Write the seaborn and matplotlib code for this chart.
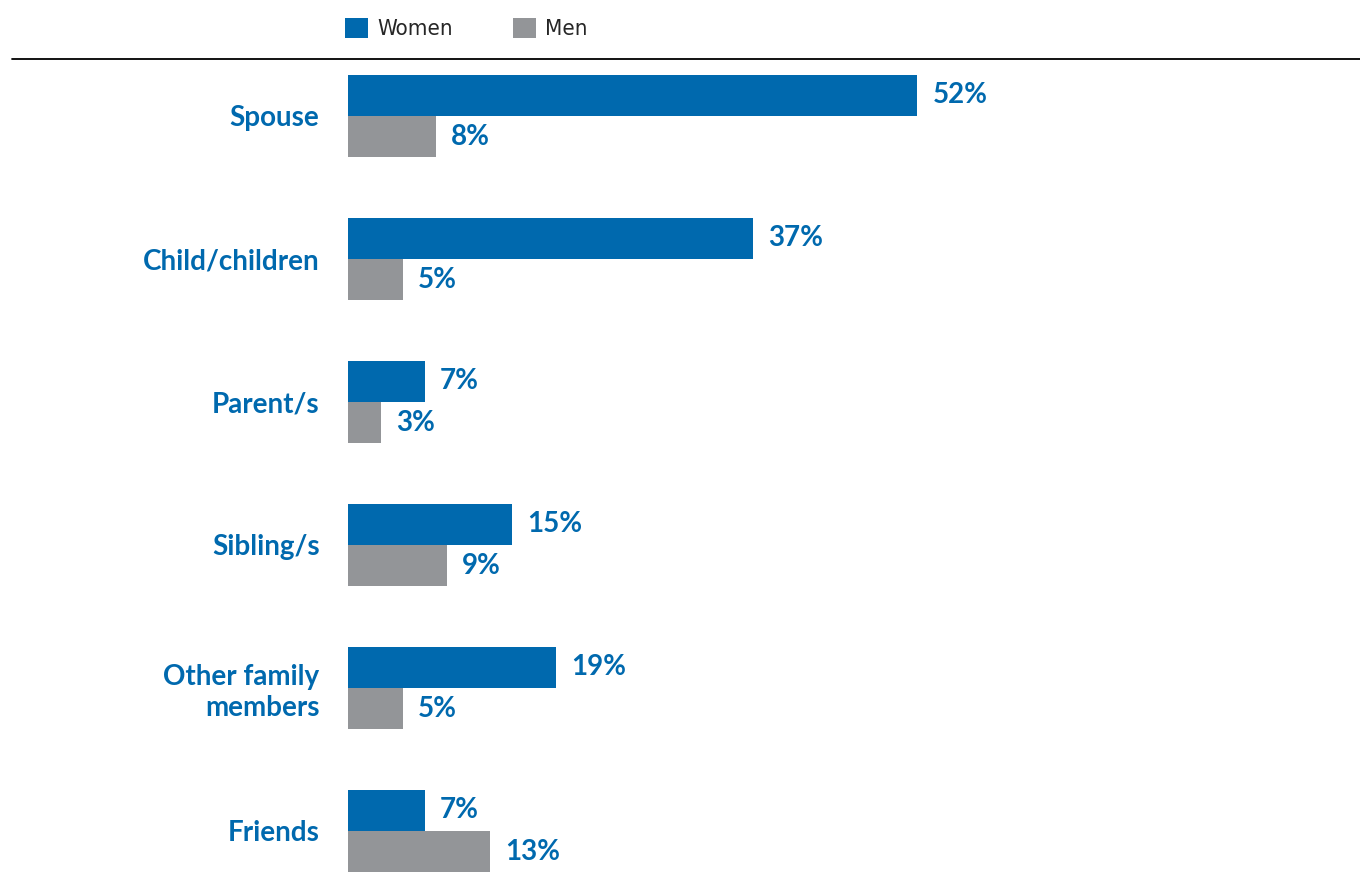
import os
import matplotlib
matplotlib.use("Agg")
import matplotlib.pyplot as plt
from matplotlib.lines import Line2D
from matplotlib import font_manager
import seaborn as sns
import pandas as pd

# Who the respondent lives with / relies on, by gender (percent)
categories = ["Spouse", "Child/children", "Parent/s", "Sibling/s",
              "Other family\nmembers", "Friends"]
women = [52, 37, 7, 15, 19, 7]
men = [8, 5, 3, 9, 5, 13]
series_names = ["Women", "Men"]

BLUE = "#0069AE"
GREY = "#939598"

df = pd.DataFrame({
    "category": categories * 2,
    "value": women + men,
    "gender": [series_names[0]] * len(categories) + [series_names[1]] * len(categories),
})

sns.set_theme(style="white")
plt.rcParams["font.family"] = ["Lato", "DejaVu Sans"]

# Narrow upright face for the legend text
fonts = font_manager.fontManager.ttflist
leg_prop = None
for f in fonts:
    if f.name == "Liberation Sans Narrow" and f.style == "normal" and f.weight in (400, "normal", "regular"):
        leg_prop = font_manager.FontProperties(fname=f.fname, size=17)
        break
if leg_prop is None:
    for f in fonts:
        if os.path.basename(f.fname) == "DejaVuSansCondensed.ttf":
            leg_prop = font_manager.FontProperties(fname=f.fname, size=16)
            break
if leg_prop is None:
    leg_prop = font_manager.FontProperties(family="Roboto", size=15)

W, H = 1360, 882
fig = plt.figure(figsize=(W / 100, H / 100), dpi=100)
ax = fig.add_axes([348 / W, 0, 1 - 348 / W, (H - 60) / H])

sns.barplot(data=df, y="category", x="value", hue="gender", orient="h",
            palette=[BLUE, GREY], width=0.574, gap=0, saturation=1,
            order=categories, hue_order=series_names, ax=ax,
            linewidth=0, edgecolor="none")

for cont in ax.containers:
    vals = [int(round(b.get_width())) for b in cont]
    ax.bar_label(cont, labels=[f"{v}%" for v in vals], padding=11,
                 color=BLUE, fontweight="bold", fontsize=20)

ax.set_xlim(0, (W - 348) / 10.95)
ax.set_ylim((H - 116) / 143, (60 - 116) / 143)
ax.set_xlabel("")
ax.set_ylabel("")
ax.set_xticks([])
for s in ax.spines.values():
    s.set_visible(False)
ax.tick_params(axis="y", length=0, pad=20.5)
for lab in ax.get_yticklabels():
    lab.set_fontsize(20)
    lab.set_fontweight("bold")
    lab.set_color(BLUE)
    lab.set_multialignment("right")

# Legend above the rule
leg = ax.get_legend()
handles = leg.legend_handles
leg.remove()
fs = leg_prop.get_size_in_points() * 100 / 72
fig.legend(handles, series_names, loc="center left",
           bbox_to_anchor=(345 / W, 1 - 28.5 / H), ncol=2, frameon=False,
           handlelength=23 / fs, handleheight=23 / fs, handletextpad=9 / fs,
           columnspacing=60 / fs, borderpad=0, borderaxespad=0,
           prop=leg_prop)

# Horizontal rule under the legend
fig.add_artist(Line2D([12 / W, 1], [1 - 59 / H, 1 - 59 / H],
                      transform=fig.transFigure, color="black", lw=1.3))

fig.savefig("out.png", dpi=100, facecolor="white")
